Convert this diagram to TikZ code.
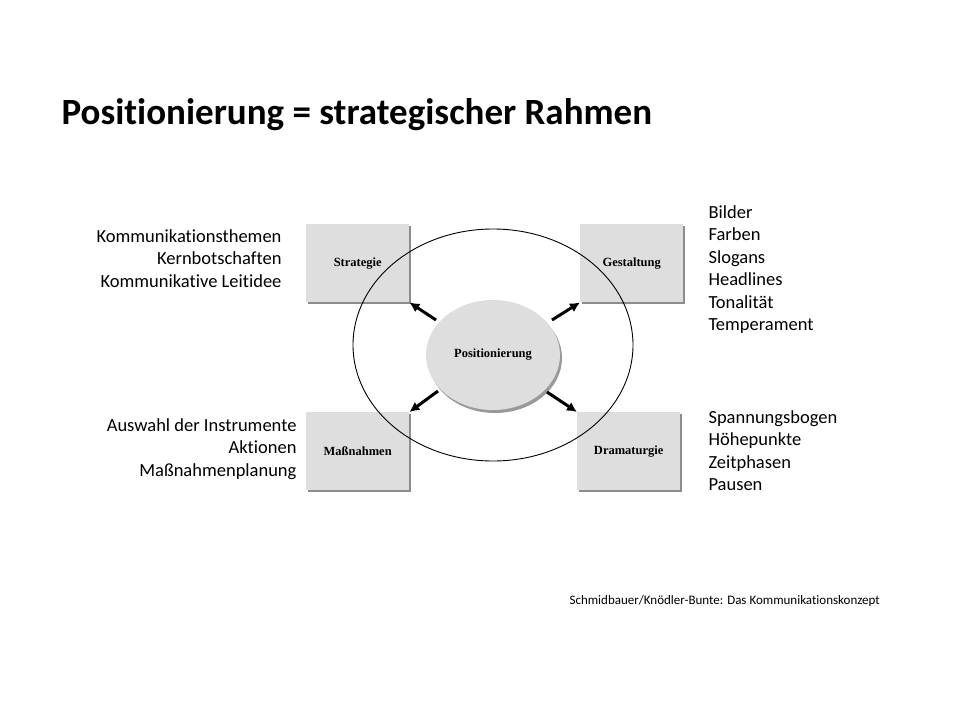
\documentclass[tikz,border=0pt]{standalone}
\usepackage{fontspec}
\setmainfont[Ligatures=NoCommon]{Carlito}
\newfontfamily\boxfont{Liberation Serif}
\usetikzlibrary{arrows.meta,shapes.geometric}
\begin{document}
\begin{tikzpicture}[x=1pt,y=-1pt,
 lab/.style={font=\fontsize{18.5}{22.5}\selectfont,align=left,anchor=north west},
 labr/.style={font=\fontsize{18.5}{22.5}\selectfont,align=right,anchor=north east},
 box/.style={fill=black!13,draw=none,minimum width=103pt,minimum height=78pt,anchor=north west,inner sep=0pt,font=\boxfont\bfseries\fontsize{12.5}{14}\selectfont},
 shadow/.style={fill=black!45},
 arr/.style={line width=3pt,-{Latex[length=10pt,width=10pt]}}]
\useasboundingbox (0,0) rectangle (960,720);
\node[anchor=west,font=\bfseries\fontsize{37}{42}\selectfont] (title) at (58,115) {Positionierung = strategischer Rahmen};
\foreach \x/\y in {306/224,580/224,306/412,577/412}{
 \fill[shadow] (\x+2,\y+2) rectangle (\x+105,\y+80);}
\node[box] (s) at (306,224) {Strategie};
\node[box] (g) at (580,224) {Gestaltung};
\node[box] (m) at (306,412) {Maßnahmen};
\node[box] (d) at (577,412) {Dramaturgie};
\draw[line width=0.9pt] (493,345) ellipse [x radius=140, y radius=116];
\fill[black!40] (495,358) ellipse [x radius=67, y radius=55];
\node[ellipse,fill=black!13,minimum width=134pt,minimum height=110pt,inner sep=0pt,font=\boxfont\bfseries\fontsize{12.5}{14}\selectfont] (p) at (493,355) {Positionierung};
\coordinate (a1) at (436,320); \coordinate (a2) at (552,320);
\coordinate (a3) at (438,391); \coordinate (a4) at (547,392);
\draw[arr] (a1) -- (s.south east);
\draw[arr] (a2) -- (g.south west);
\draw[arr] (a3) -- (m.north east);
\draw[arr] (a4) -- (d.north west);
\node[labr] (l1) at (285,226) {Kommunikationsthemen\\Kernbotschaften\\Kommunikative Leitidee};
\node[labr] (l3) at (300,415) {Auswahl der Instrumente\\Aktionen\\Maßnahmenplanung};
\node[lab] (l2) at (705,202) {Bilder\\Farben\\Slogans\\Headlines\\Tonalität\\Temperament};
\node[lab] (l4) at (705,407) {Spannungsbogen\\Höhepunkte\\Zeitphasen\\Pausen};
\node[anchor=west,font=\fontsize{13}{15}\selectfont] (src) at (566,601) {Schmidbauer/Knödler-Bunte: Das Kommunikationskonzept};
\end{tikzpicture}
\end{document}
